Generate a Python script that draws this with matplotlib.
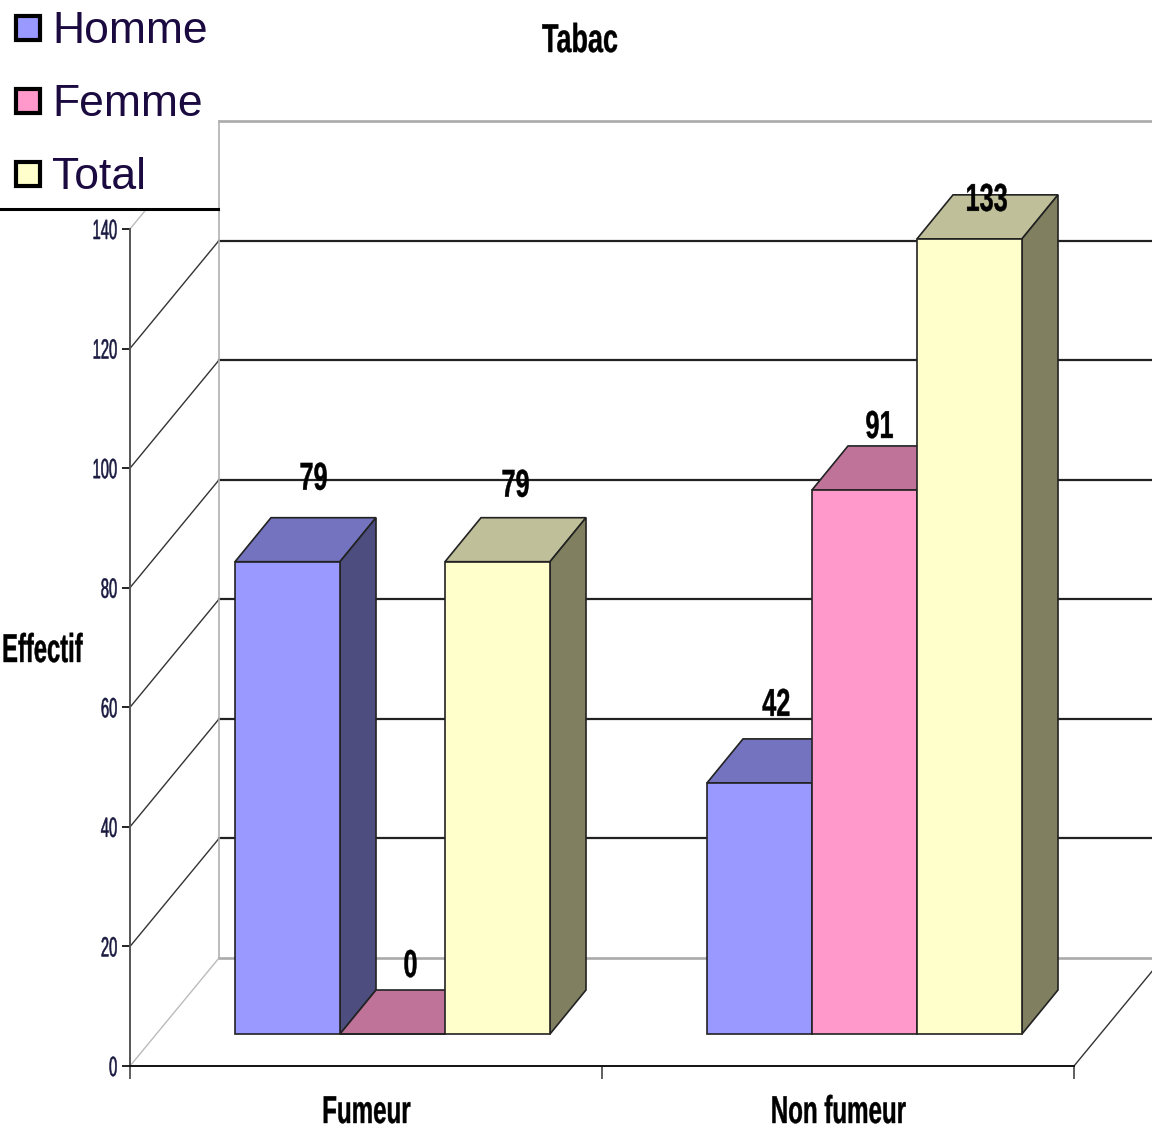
import matplotlib
matplotlib.use('Agg')
import matplotlib.pyplot as plt
from matplotlib.patches import Polygon, Rectangle
from matplotlib.patheffects import AbstractPathEffect
from matplotlib.transforms import Affine2D

categories = ['Fumeur', 'Non fumeur']
series = ['Homme', 'Femme', 'Total']
homme = [79, 42]
femme = [0, 91]
total = [79, 133]
yticks = [0, 20, 40, 60, 80, 100, 120, 140]

face_colors = ['#9999FF', '#FF99CC', '#FFFFCC']
top_colors = ['#7373BF', '#BF7399', '#BFBF99']
side_colors = ['#4D4D80', '#804D66', '#808060']

# label shift from the top of each bar, in pixels
label_shift = [[(26, 82), (18, 67), (18, 75)],
               [(17, 77), (15, 62), (17, 38)]]

W, H = 1152, 1128
X_UNIT = 472.0   # pixels per category
Y_UNIT = 5.979   # pixels per person

# oblique offsets of the 3d box, in data units
wall_dx = 89 / X_UNIT
wall_dy = 108 / Y_UNIT
bar_base = 32 / Y_UNIT
depth_dx = 36 / X_UNIT
depth_dy = 44 / Y_UNIT
bar_w = 105 / X_UNIT


class Squeeze(AbstractPathEffect):
    # narrows a text around an anchor, the chart font is very condensed
    def __init__(self, sx, anchor='center', stroke=0.0, dy=0):
        super().__init__()
        self.sx = sx
        self.anchor = anchor
        self.stroke = stroke
        self.dy = dy

    def draw_path(self, renderer, gc, tpath, affine, rgbFace=None):
        box = tpath.get_extents()
        ref = {'left': box.x0, 'center': (box.x0 + box.x1) / 2, 'right': box.x1}[self.anchor]
        squeeze = Affine2D().translate(-ref, 0).scale(self.sx, 1).translate(ref, 0)
        gc0 = renderer.new_gc()
        gc0.copy_properties(gc)
        gc0.set_linewidth(self.stroke)
        renderer.draw_path(gc0, tpath, squeeze + affine + Affine2D().translate(0, self.dy), rgbFace)
        gc0.restore()


plt.rcParams['font.family'] = ['Liberation Sans', 'DejaVu Sans']

fig = plt.figure(figsize=(W / 100, H / 100), dpi=100, facecolor='white')
ax = fig.add_axes([130 / W, (H - 1066) / H, 944 / W, 837 / H])
ax.set_xlim(0, 2)
ax.set_ylim(0, 140)
ax.patch.set_visible(False)
for name in ['top', 'right']:
    ax.spines[name].set_visible(False)
ax.spines['left'].set_color('#555555')
ax.spines['left'].set_linewidth(1.4)
ax.spines['bottom'].set_color('#111111')
ax.spines['bottom'].set_linewidth(1.4)

px = Affine2D().scale(1, -1).translate(0, H)

# back wall and side wall
for v in yticks:
    col = '#aaaaaa' if v in (0, 140) else '#222222'
    lw = 1.9 if v in (0, 140) else 1.6
    ax.plot([wall_dx, 2.3], [v + wall_dy, v + wall_dy], color=col, lw=lw, zorder=1, clip_on=False)
    ax.plot([0, wall_dx], [v, v + wall_dy], color='#bbbbbb' if v in (0, 140) else '#333333',
            lw=1.0, zorder=1, clip_on=False)
ax.plot([wall_dx, wall_dx], [wall_dy, 140 + wall_dy], color='#b0b0b0', lw=1.2, zorder=1, clip_on=False)
ax.plot([2, 2 + wall_dx], [0, wall_dy], color='#333333', lw=1.0, zorder=1, clip_on=False)

# bars, left to right so each one hides the side of the previous one
values = [homme, femme, total]
for c in range(len(categories)):
    for s in range(len(series)):
        v = values[s][c]
        x0 = c + bar_w + s * bar_w
        x1 = x0 + bar_w
        top = bar_base + v
        edge = dict(edgecolor='#222222', linewidth=1.2, zorder=3, clip_on=False)
        ax.add_patch(Polygon([(x0, top), (x1, top), (x1 + depth_dx, top + depth_dy),
                              (x0 + depth_dx, top + depth_dy)], facecolor=top_colors[s], **edge))
        ax.add_patch(Polygon([(x1, bar_base), (x1, top), (x1 + depth_dx, top + depth_dy),
                              (x1 + depth_dx, bar_base + depth_dy)], facecolor=side_colors[s], **edge))
        ax.bar(x0, v, bar_w, bottom=bar_base, align='edge', color=face_colors[s], **edge)
        shift = label_shift[c][s]
        ax.annotate(str(v), (x0 + bar_w / 2, top), xytext=shift, textcoords='offset pixels',
                    ha='center', va='center', fontsize=28, fontweight='bold', color='black',
                    zorder=6, annotation_clip=False, path_effects=[Squeeze(0.65, stroke=0.3)])

ax.set_yticks(yticks)
ax.set_xticks([0, 1, 2])
ax.set_xticklabels([])
ax.set_xticks([0.5, 1.5], minor=True)
ax.set_xticklabels(categories, minor=True, fontsize=28, fontweight='bold', color='black',
                   path_effects=[Squeeze(0.62, stroke=0.3, dy=-4)])
ax.tick_params(axis='x', which='major', length=9.4, width=1.2, color='#444444')
ax.tick_params(axis='x', which='minor', length=0, pad=18)
ax.tick_params(axis='y', length=5.8, width=1.4, color='#222222', pad=3, labelsize=20,
               labelcolor='#1a1a40')
for lab in ax.get_yticklabels():
    lab.set_path_effects([Squeeze(0.53, anchor='right', stroke=0.4)])

# legend block sits on top of the chart
ax.add_patch(Rectangle((0, 0), 218, 209, transform=px, facecolor='white', edgecolor='none',
                       zorder=7, clip_on=False))
ax.plot([0, 218], [209, 209], transform=px, color='black', lw=2.2, zorder=8, clip_on=False)
for i, name in enumerate(series):
    y = 28 + i * 73
    ax.add_patch(Rectangle((16, y - 12), 24, 24, transform=px, facecolor=face_colors[i],
                           edgecolor='black', linewidth=3, zorder=8, clip_on=False))
    ax.text(52, y + 15, name, transform=px, fontsize=32, color='#1a0a40', ha='left',
            va='baseline', zorder=8, clip_on=False)

ax.text(580, 41, 'Tabac', transform=px, fontsize=29, fontweight='bold', ha='center', va='center',
        color='black', path_effects=[Squeeze(0.67, stroke=0.3)], clip_on=False)
ax.text(1, 651, 'Effectif', transform=px, fontsize=29, fontweight='bold', ha='left', va='center',
        color='black', path_effects=[Squeeze(0.59, anchor='left', stroke=0.3)], clip_on=False)

fig.savefig('out.png', dpi=100)
